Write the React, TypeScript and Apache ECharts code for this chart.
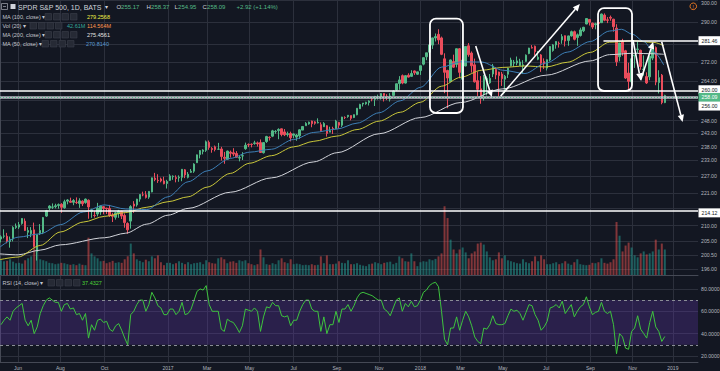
import React, { useEffect, useRef } from 'react';
import * as echarts from 'echarts';

// ---- DATA (3 trading days per bar, bar k sits at trading-day index 3k+1) ----
const BAR_STEP = 3;
// [open, high, low, close]
const OHLC: number[][] = [
  [205.6,206.8,204.5,206.3],[206.5,208.8,205.8,206.6],[206.5,207.6,204.2,204.9],[204.8,206.4,202.8,205.5],[205.6,209.8,204.8,209.4],
  [209.4,210.7,208.9,209.8],[209.5,211.2,208.9,210.3],[210.7,212.5,210.3,212.4],[211.5,212.4,208.2,208.4],[207.8,209.5,205.9,208.4],
  [207.3,209.5,206.2,208.4],[208.6,211.0,203.1,203.2],[201.6,207.0,198.7,207.0],[207.3,210.5,206.9,208.4],[207.8,212.9,207.2,212.7],
  [213.2,215.3,212.9,215.0],[215.9,216.9,215.2,216.6],[216.2,217.5,215.6,216.3],[216.4,217.4,215.8,216.7],[216.8,217.5,215.7,217.1],
  [217.2,217.6,214.3,216.2],[216.0,218.8,215.7,218.1],[218.3,219.0,217.2,218.7],[218.3,219.5,217.8,217.9],[217.9,219.0,216.9,218.5],
  [217.9,219.6,217.3,217.8],[217.5,219.3,216.0,218.4],[218.3,218.6,216.6,217.4],[217.8,219.2,217.4,219.0],[218.6,218.9,212.3,216.3],
  [214.8,215.7,212.6,215.3],[213.4,214.9,212.7,213.4],[213.9,217.7,213.1,215.9],[214.6,216.8,213.6,216.6],[216.4,216.6,213.8,215.8],
  [215.9,216.0,213.9,215.7],[215.8,217.0,212.9,213.4],[213.6,214.3,211.2,213.1],[212.8,214.6,212.0,214.3],[214.1,215.3,212.6,214.9],
  [214.8,215.0,212.2,213.2],[213.4,214.1,209.3,211.0],[210.7,211.1,207.3,208.6],[211.5,216.9,209.0,216.4],[217.3,218.3,214.3,216.6],
  [217.0,219.1,216.4,219.0],[219.0,220.7,218.1,220.6],[220.5,221.6,220.0,220.5],[220.5,221.8,219.2,219.6],[219.7,221.8,219.1,221.7],
  [221.5,226.6,221.4,226.5],[226.4,228.3,225.3,225.9],[225.6,227.8,224.7,225.5],[226.1,226.6,224.9,225.4],[225.4,226.9,224.2,224.4],
  [224.5,225.8,222.7,225.2],[225.6,227.8,225.4,227.2],[226.9,227.4,225.8,227.1],[226.6,227.4,224.9,226.25],[226.5,227.4,225.1,226.7],
  [226.7,229.7,225.3,229.6],[229.4,229.7,226.4,227.55],[226.7,228.6,226.3,227.8],[228.5,229.7,228.3,228.9],[228.9,231.8,228.3,231.5],
  [232.0,235.0,231.9,234.9],[235.0,236.7,233.6,236.5],[236.2,237.0,235.1,236.7],[236.6,240.3,236.0,239.8],[239.6,240.3,236.8,237.7],
  [237.3,237.8,235.7,236.9],[237.9,238.4,236.2,236.9],[237.0,239.4,236.9,237.0],[237.1,237.9,232.8,234.3],[234.0,236.0,231.6,233.6],
  [233.3,236.5,233.1,236.3],[235.9,236.5,233.9,235.5],[235.7,237.4,234.4,235.2],[235.4,236.3,233.9,234.0],[233.7,234.7,232.5,233.9],
  [234.5,235.9,233.0,234.6],[237.2,239.5,236.8,238.5],[238.8,239.2,237.8,238.7],[238.9,239.2,237.7,238.8],[239.2,240.2,238.7,239.4],
  [239.4,239.9,238.0,239.0],[239.5,240.7,235.7,235.8],[235.7,239.7,235.4,239.5],[239.9,242.1,239.4,241.8],[241.5,241.9,240.3,241.4],
  [241.97,244.4,241.6,244.0],[243.7,244.3,242.9,243.8],[244.1,245.0,240.8,244.55],[244.8,244.9,241.9,242.6],[243.6,244.7,242.0,242.5],
  [242.6,243.7,241.8,242.9],[243.0,243.7,239.96,241.35],[242.3,243.0,241.2,242.8],[241.6,242.8,240.2,242.4],[242.1,244.6,240.9,244.4],
  [244.3,245.9,244.3,245.7],[246.0,247.4,246.0,246.9],[246.7,247.6,246.4,247.4],[247.8,248.0,245.4,246.8],[247.5,247.8,246.4,246.96],
  [247.1,248.9,246.9,247.3],[246.4,247.3,243.7,244.1],[245.6,247.4,245.5,246.9],[246.0,246.2,241.8,243.0],[243.5,245.6,243.5,244.1],
  [244.9,245.6,242.8,244.85],[244.8,248.3,244.7,247.8],[247.3,247.5,244.9,246.2],[246.2,249.5,245.5,249.4],[249.2,249.7,248.6,249.2],
  [249.6,250.2,249.1,250.1],[250.0,250.0,248.1,248.9],[249.2,250.4,249.0,250.35],[250.3,253.0,250.1,252.9],[252.7,254.7,252.6,254.4],
  [254.6,255.0,253.6,255.0],[254.7,255.5,254.3,255.3],[255.2,256.1,254.0,255.8],[256.7,257.1,255.7,256.6],[256.5,257.9,253.8,257.7],
  [257.2,258.4,256.4,257.5],[257.4,259.0,256.4,258.85],[258.9,259.0,255.6,258.05],[257.7,258.6,256.2,257.7],[256.6,259.0,255.6,257.9],
  [258.1,260.2,257.9,259.8],[260.3,263.0,259.9,262.9],[263.0,266.1,260.4,264.5],[266.3,266.8,262.7,263.2],[263.2,266.4,263.0,266.3],
  [266.5,267.3,265.5,265.7],[266.0,268.6,265.9,267.2],[268.3,268.5,266.6,267.5],[266.9,267.9,266.6,267.9],[268.5,270.6,266.6,270.5],
  [271.2,274.1,270.7,274.0],[274.4,276.1,272.9,276.1],[276.4,280.1,275.0,279.6],[279.5,282.8,277.8,282.7],[282.7,284.7,281.1,283.3],
  [284.3,286.6,279.9,281.8],[282.7,283.3,275.1,275.45],[273.5,275.9,259.0,267.7],[268.5,268.8,252.9,265.3],[263.8,273.2,263.6,273.0],
  [272.3,275.3,269.6,269.9],[271.1,278.0,269.8,277.9],[277.9,278.2,265.2,267.7],[264.8,273.4,264.1,272.9],[270.4,279.0,270.3,278.9],
  [279.2,280.4,274.4,275.3],[276.0,276.7,267.6,270.5],[270.9,273.6,263.4,263.7],[264.2,268.0,257.8,260.6],[260.8,266.1,254.7,257.5],
  [258.9,266.6,256.0,265.6],[263.4,266.0,258.1,265.15],[263.3,267.0,262.9,265.15],[267.0,271.3,265.7,270.4],[269.0,269.9,264.8,266.6],
  [267.8,268.0,257.8,266.3],[267.0,267.9,262.0,265.0],[264.8,266.6,259.05,266.0],[266.9,269.6,265.3,269.5],[270.5,274.0,270.2,272.98],
  [271.6,273.0,270.0,272.0],[271.7,274.5,270.7,272.6],[270.6,273.5,270.4,272.15],[270.4,272.9,267.1,270.9],[272.4,275.4,272.2,275.1],
  [275.8,278.3,275.5,278.2],[278.4,279.5,278.0,278.2],[279.0,279.3,274.9,276.6],[273.3,276.9,272.9,274.2],[275.2,275.6,267.9,271.6],
  [272.3,273.7,269.1,271.3],[269.5,273.2,268.5,273.1],[273.0,279.0,272.4,278.9],[277.1,280.0,276.6,279.6],[279.6,281.2,277.9,281.1],
  [280.3,281.1,278.4,280.2],[281.8,284.4,280.1,283.3],[283.7,283.8,278.9,281.3],[281.6,283.7,279.2,283.6],[283.6,286.0,283.3,285.5],
  [285.5,286.0,281.6,282.1],[282.9,284.7,279.2,284.1],[283.8,287.3,283.3,286.3],[285.9,287.7,285.3,287.5],[289.0,291.7,288.9,291.5],
  [291.1,291.2,288.3,289.8],[289.4,289.6,286.7,287.6],[288.7,289.6,286.6,289.1],[289.7,291.3,289.1,289.3],[289.6,293.8,289.5,293.6],
  [293.1,293.9,290.3,290.75],[290.9,292.2,289.4,290.7],[292.1,292.9,290.5,291.7],[291.2,291.4,285.5,287.8],[287.1,288.9,270.4,272.2],
  [274.4,280.5,272.4,280.4],[281.2,282.3,274.8,276.25],[277.0,277.4,264.9,265.3],[267.4,271.8,259.85,263.9],[263.7,273.7,262.3,273.5],
  [274.8,275.2,269.6,275.1],[277.6,281.2,276.0,277.8],[277.2,277.5,268.8,270.2],[268.8,275.0,266.3,269.1],[265.9,267.7,262.8,263.25],
  [265.8,274.9,264.4,274.6],[273.8,280.4,272.9,279.3],[278.4,278.9,262.3,263.6],[263.4,268.6,258.9,265.46],[266.5,267.0,254.5,255.17],
  [255.17,258.37,254.95,258.09]
];

// volume in millions per bar
const VOLUME: number[] = [
  75,70,72,80,68,60, 62,58,75,85,95,150,145,80, 75,70,62,60,55,58, 62,60,55,52,55,50,58,52,
  50,190,110,95,85,70,72, 60,65,72,62,65,62,80, 95,160,110,80,72,65,78, 70,95,85,100,65,50,62,
  62,55,60,70,62,55,65, 55,60,62,65,55,75, 65,60,58,85,90,80,60,68, 70,62,75,70,75,60,
  55,50,55,130,90,55,52, 60,55,75,85,65,60,80,55, 58,55,50,52,50,55, 50,52,95,60,100,55,55,58,
  70,62,60,75,55,55,60, 52,48,45,55,58,65,60, 55,62,65,68,55,62,95, 85,70,68,110,70,45,65,
  70,68,80,75,82,95,110, 350,290,180,130,110,130, 140,115,85,110,120,160,165, 155,120,90,75,80,115,85,
  100,75,70,65,60,58,80, 65,60,70,95,70,100,80, 55,55,60,65,55,60,70, 58,52,65,80,55,52,50,52,
  62,60,65,85,62,58,65, 80,270,200,120,150,165,140, 100,90,110,120,105,110,120, 180,130,160,130
];

// RSI(14) per bar
const RSI: number[] = [
  48,52,55,52,60,63,65,67,52,47, 52,40,46,58,65,70,72,70,68,68,
  60,66,67,62,63,57,58,52,58,36, 48,43,52,53,50,51,44,42,47,49,
  43,36,30,57,60,66,70,70,60,66, 77,72,65,63,57,57,62,62,57,60,
  68,57,58,62,70,78,80,79,83,66, 60,60,60,44,42,53,51,50,46,41,
  47,62,61,60,63,60,42,55,64,63, 68,65,65,56,55,56,47,52,52,60,
  66,70,70,62,60,60,42,55,40,48, 48,60,50,62,62,66,60,65,72,76,
  77,76,75,74,72,70,70,62,60,56, 63,70,72,60,67,64,69,64,65,70,
  77,79,83,85,86,82,60,35,30,45, 45,55,43,52,60,55,47,37,33,31,
  45,44,48,56,49,48,48,49,56,62, 60,61,58,52,59,66,65,57,52,43,
  46,51,63,64,66,63,69,58,62,66, 55,60,64,66,73,64,57,59,60,68,
  60,58,60,48,22,40,37,27,26,42, 45,56,44,40,36,50,60,46,42,33,
  37.4327
];

// moving averages [trading-day index, value]
const MA50: number[][] = [[0,203.0],[18,206.2],[40,207.3],[60,210.3],[83,214.6],[104,217.0],[125,215.6],[146,215.4],[167,219.8],[187,225.1],[206,229.0],[229,233.6],[248,235.9],[270,237.0],[292,240.7],[312,243.4],[335,244.7],[355,247.0],[377,251.1],[398,255.9],[418,261.4],[439,269.9],[458,272.2],[479,272.1],[500,268.6],[522,267.2],[543,271.7],[564,276.4],[587,281.1],[606,285.8],[618,286.6],[629,284.3],[640,281.1],[650,276.5],[660,270.814]];
const MA100: number[][] = [[0,199.0],[18,199.8],[40,203.5],[60,207.9],[83,211.2],[104,213.1],[125,214.4],[146,216.2],[167,218.1],[187,219.8],[206,223.2],[229,228.1],[248,231.8],[270,234.6],[292,237.9],[312,240.0],[335,242.0],[355,244.5],[377,247.8],[398,251.3],[418,255.3],[439,261.9],[458,265.6],[479,268.6],[500,269.8],[522,270.4],[543,270.0],[564,272.0],[587,276.3],[606,280.8],[629,281.4],[650,280.7],[660,279.2568]];
const MA200: number[][] = [[0,200.8],[18,200.5],[40,202.0],[60,203.7],[104,206.0],[125,207.5],[146,210.5],[167,213.5],[187,215.8],[229,221.4],[270,226.5],[312,232.3],[335,235.7],[377,242.9],[418,249.2],[458,255.2],[500,260.8],[543,266.5],[587,272.6],[606,275.3],[629,275.9],[650,275.7],[660,275.4561]];

const MONTH_TICKS = [18, 60, 104, 167, 206, 248, 292, 335, 377, 418, 458, 500, 543, 587, 629, 669];
const MONTH_LABELS = ['Jun','Aug','Oct','2017','Mar','May','Jul','Sep','Nov','2018','Mar','May','Jul','Sep','Nov','2019'];
const PRICE_TICKS = [196, 200.5, 205, 210, 216, 221, 227, 233, 238, 243, 248, 256, 264, 272, 280, 290, 300];
// tick labels that the level boxes do not cover
const PRICE_LABELS = [196, 200.5, 205, 210, 221, 227, 233, 238, 243, 248, 264, 272, 290, 300];
const RSI_TICKS = [20, 40, 60, 80];
const PREV_CLOSE = 255.17;

// horizontal levels drawn on the chart
const LEVEL_260 = 260;
const LEVEL_256 = 256;
const LEVEL_214 = 214.12;
const LEVEL_281 = 281.46;

// annotations in data space: [index, price]
const ANNOT_RECTS = [
  { i0: 427.5, p0: 291.5, i1: 460.3, p1: 251.0 },
  { i0: 594.6, p0: 296.4, i1: 628.4, p1: 259.9 },
];
const ANNOT_ARROWS = [
  [473, 279.1, 489, 257.4],
  [497.8, 257.8, 576.5, 298.3],
  [629.4, 281.7, 637, 264.4],
  [637, 264.4, 649.5, 281.0],
  [657.9, 281.0, 678.7, 247.5],
];

// ---- STYLE ----
const BG = '#131722';
const GRID_C = '#2c303c';
const AXIS_C = '#454955';
const TXT = '#b2b5be';
const UP = '#53b987';
const DOWN = '#eb4d5c';
const FONT = '"Liberation Sans", Arial, sans-serif';
const X_MAX = 694;
const ln = Math.log;

function buildOption(): any {
  const xOf = (k: number) => k * BAR_STEP + 1;
  const candles = OHLC.map((d, k) => [xOf(k), ln(d[0]), ln(d[3]), ln(d[2]), ln(d[1])]);
  const vols = VOLUME.map((v, k) => {
    const d = OHLC[k];
    const up = d[3] >= d[0];
    return { value: [xOf(k), v], itemStyle: { color: up ? 'rgba(38,166,154,0.5)' : 'rgba(239,83,80,0.5)' } };
  });
  const rsi = RSI.map((r, k) => [xOf(k), r]);
  const maLine = (arr: number[][], color: string) => ({
    type: 'line', xAxisIndex: 0, yAxisIndex: 0, data: arr.map(([i, p]) => [i, ln(p)]),
    showSymbol: false, symbol: 'none', smooth: 0.3, smoothMonotone: 'x', silent: true,
    lineStyle: { color, width: 1 }, z: 4,
  });
  const xFmt = (v: number) => {
    const i = MONTH_TICKS.indexOf(Math.round(v));
    return i >= 0 ? MONTH_LABELS[i] : '';
  };
  const lnTicks = PRICE_TICKS.map(ln);
  const lnLabels = PRICE_LABELS.map(ln);
  const last = OHLC[OHLC.length - 1];
  return {
    animation: false,
    backgroundColor: BG,
    textStyle: { fontFamily: FONT },
    grid: [
      { left: 0, top: 0, width: 698, height: 275, containLabel: false, outerBoundsMode: 'none' },
      { left: 0, top: 0, width: 698, height: 275, containLabel: false, outerBoundsMode: 'none' },
      { left: 0, top: 276, width: 698, height: 86, containLabel: false, outerBoundsMode: 'none' },
    ],
    xAxis: [
      { type: 'value', gridIndex: 0, min: 0, max: X_MAX,
        axisLine: { show: true, onZero: false, lineStyle: { color: AXIS_C } },
        axisTick: { show: false, customValues: MONTH_TICKS },
        axisLabel: { show: false, customValues: MONTH_TICKS },
        splitLine: { show: true, lineStyle: { color: GRID_C, width: 1 } } },
      { type: 'value', gridIndex: 1, min: 0, max: X_MAX, show: false, splitLine: { show: false } },
      { type: 'value', gridIndex: 2, min: 0, max: X_MAX,
        axisLine: { show: true, onZero: false, lineStyle: { color: AXIS_C } },
        axisTick: { show: false, customValues: MONTH_TICKS },
        axisLabel: { show: true, customValues: MONTH_TICKS, formatter: xFmt, color: TXT, fontSize: 5, margin: 3, fontFamily: FONT },
        splitLine: { show: true, lineStyle: { color: GRID_C, width: 1 } } },
    ],
    yAxis: [
      { type: 'value', gridIndex: 0, position: 'right', min: ln(194.2), max: ln(300.2), scale: true,
        axisLine: { show: true, lineStyle: { color: AXIS_C } },
        axisTick: { show: false, customValues: lnTicks },
        axisLabel: { customValues: lnLabels, formatter: (v: number) => Math.exp(v).toFixed(2), color: TXT, fontSize: 5.2, margin: 3, fontFamily: FONT,
          verticalAlignMaxLabel: 'top' },
        splitLine: { show: true, lineStyle: { color: GRID_C, width: 1 } } },
      { type: 'value', gridIndex: 1, min: 0, max: 1400, show: false, splitLine: { show: false } },
      { type: 'value', gridIndex: 2, position: 'right', min: 14.6, max: 91.6,
        axisLine: { show: true, lineStyle: { color: AXIS_C } },
        axisTick: { show: false, customValues: RSI_TICKS },
        axisLabel: { customValues: RSI_TICKS, formatter: (v: number) => v.toFixed(4), color: TXT, fontSize: 5.2, margin: 3, fontFamily: FONT },
        splitLine: { show: true, lineStyle: { color: GRID_C, width: 1 } } },
    ],
    series: [
      { type: 'bar', xAxisIndex: 1, yAxisIndex: 1, data: vols, barWidth: 2, silent: true, z: 1 },
      { type: 'candlestick', xAxisIndex: 0, yAxisIndex: 0, data: candles, barWidth: 2, silent: true, z: 3,
        encode: { x: 0, y: [1, 2, 3, 4] },
        itemStyle: { color: UP, color0: DOWN, borderColor: UP, borderColor0: DOWN, borderWidth: 1 },
        markLine: {
          silent: true, symbol: ['none', 'none'], label: { show: false }, animation: false,
          data: [
            { yAxis: ln(LEVEL_260), lineStyle: { color: '#ffffff', width: 1.5, type: 'solid' } },
            { yAxis: ln(LEVEL_256), lineStyle: { color: '#b8bbc4', width: 2.5, type: 'solid' } },
            { yAxis: ln(LEVEL_214), lineStyle: { color: '#ffffff', width: 1.5, type: 'solid' } },
            { yAxis: ln(last[3]), lineStyle: { color: UP, width: 1, type: [1, 2] } },
            [ { coord: [600, ln(LEVEL_281)], lineStyle: { color: '#ffffff', width: 1.5, type: 'solid' } }, { coord: [X_MAX, ln(LEVEL_281)] } ],
          ],
        } },
      maLine(MA200, '#d2d4da'),
      maLine(MA100, '#c9c73a'),
      maLine(MA50, '#3d7fb6'),
      { type: 'line', xAxisIndex: 2, yAxisIndex: 2, data: rsi, showSymbol: false, symbol: 'none', silent: true,
        lineStyle: { color: '#3ec43e', width: 1 }, z: 4,
        markArea: { silent: true, itemStyle: { color: 'rgba(103,58,183,0.28)' }, data: [[{ yAxis: 30 }, { yAxis: 70 }]] },
        markLine: { silent: true, symbol: ['none', 'none'], label: { show: false },
          lineStyle: { color: '#8a8d96', width: 1, type: [3, 3] }, data: [{ yAxis: 70 }, { yAxis: 30 }] } },
    ],
  };
}

function txt(x: number, y: number, text: string, fill: string, size: number, align = 'left', extra: any = {}): any {
  return { type: 'text', x, y, z: 100, silent: true,
    style: { text, fill, fontSize: size, fontFamily: FONT, align, verticalAlign: 'middle', ...extra } };
}

function buttons(x0: number, y: number): any[] {
  const out: any[] = [];
  for (let b = 0; b < 4; b++) {
    out.push({ type: 'rect', z: 100, silent: true, shape: { x: x0 + b * 8.5, y: y - 3.2, width: 6.5, height: 6.5 },
      style: { fill: '#262a35', stroke: '#3a3e4a', lineWidth: 0.6 } });
  }
  return out;
}

function buildGraphic(chart: any): any[] {
  const P = (i: number, p: number) => chart.convertToPixel({ gridIndex: 0 }, [i, ln(p)]) as number[];
  const els: any[] = [];
  const last = OHLC[OHLC.length - 1];

  // rounded boxes
  for (const r of ANNOT_RECTS) {
    const a = P(r.i0, r.p0), b = P(r.i1, r.p1);
    els.push({ type: 'rect', z: 90, silent: true, shape: { x: a[0], y: a[1], width: b[0] - a[0], height: b[1] - a[1], r: 6 },
      style: { fill: 'none', stroke: '#ffffff', lineWidth: 1.8 } });
  }
  // arrows
  for (const [i0, p0, i1, p1] of ANNOT_ARROWS) {
    const a = P(i0, p0), b = P(i1, p1);
    const dx = b[0] - a[0], dy = b[1] - a[1];
    const len = Math.hypot(dx, dy), ux = dx / len, uy = dy / len;
    const L = 7, W = 3.2;
    const bx = b[0] - ux * L, by = b[1] - uy * L;
    els.push({ type: 'line', z: 90, silent: true, shape: { x1: a[0], y1: a[1], x2: bx, y2: by }, style: { stroke: '#ffffff', lineWidth: 1.6 } });
    els.push({ type: 'polygon', z: 90, silent: true,
      shape: { points: [[b[0], b[1]], [bx - uy * W, by + ux * W], [bx + uy * W, by - ux * W]] }, style: { fill: '#ffffff' } });
  }
  // price-axis labels of levels
  const boxes = [
    { p: LEVEL_281, dy: 0, bg: '#ffffff', fg: '#131722', t: LEVEL_281.toFixed(2) },
    { p: LEVEL_260, dy: -1, bg: '#ffffff', fg: '#131722', t: LEVEL_260.toFixed(2) },
    { p: last[3], dy: 2, bg: UP, fg: '#ffffff', t: last[3].toFixed(2) },
    { p: LEVEL_256, dy: 5.5, bg: '#ffffff', fg: '#131722', t: LEVEL_256.toFixed(2) },
    { p: LEVEL_214, dy: -0.5, bg: '#ffffff', fg: '#131722', t: LEVEL_214.toFixed(2) },
  ];
  for (const b of boxes) {
    const y = P(0, b.p)[1] + b.dy;
    els.push({ type: 'rect', z: 95, silent: true, shape: { x: 698.5, y: y - 4.5, width: 21.5, height: 9 }, style: { fill: b.bg } });
    els.push(txt(709.5, y, b.t, b.fg, 5.2, 'center'));
  }

  // header
  els.push({ type: 'rect', z: 100, silent: true, shape: { x: 1.5, y: 3.5, width: 6, height: 6 }, style: { fill: 'none', stroke: '#9598a1', lineWidth: 0.8 } });
  els.push({ type: 'line', z: 100, silent: true, shape: { x1: 3, y1: 6.5, x2: 6, y2: 6.5 }, style: { stroke: '#9598a1', lineWidth: 0.8 } });
  els.push({ type: 'rect', z: 100, silent: true, shape: { x: 10.5, y: 4, width: 5, height: 5 }, style: { fill: '#d1d4dc' } });
  els.push(txt(18, 7, 'SPDR S&P 500, 1D, BATS', '#d1d4dc', 7));
  els.push(txt(104.5, 7, '▾', '#d1d4dc', 5.5));
  const chg = last[3] - PREV_CLOSE;
  const pct = (chg / PREV_CLOSE) * 100;
  const ohlcParts = [
    { l: 'O', v: last[0], x: 116.5 }, { l: 'H', v: last[1], x: 146.5 },
    { l: 'L', v: last[2], x: 174.5 }, { l: 'C', v: last[3], x: 202.5 },
  ];
  for (const o of ohlcParts) {
    els.push(txt(o.x, 7, o.l, '#d1d4dc', 6));
    els.push(txt(o.x + (o.l === 'L' ? 3.6 : 4.6), 7, o.v.toFixed(2), UP, 6));
  }
  els.push(txt(236.5, 7, `+${chg.toFixed(2)} (+${pct.toFixed(2)}%)`, UP, 6));

  const LBL = '#c3c6ce';
  const rows = [
    { label: 'MA (100, close) ▾', y: 16.7, bx: 45, vals: [{ t: MA100[MA100.length - 1][1].toFixed(4), x: 87, c: '#f2f046' }] },
    { label: 'Vol (20) ▾', y: 25.7, bx: 30, vals: [{ t: '42.61M', x: 67, c: '#35a99e' }, { t: '114.564M', x: 87, c: '#ff9850' }] },
    { label: 'MA (200, close) ▾', y: 34.7, bx: 45, vals: [{ t: MA200[MA200.length - 1][1].toFixed(4), x: 87, c: '#e4e4e4' }] },
    { label: 'MA (50, close) ▾', y: 43.7, bx: 42, vals: [{ t: MA50[MA50.length - 1][1].toFixed(4), x: 86, c: '#5a9bd4' }] },
    { label: 'RSI (14, close) ▾', y: 282.7, bx: 48, vals: [{ t: RSI[RSI.length - 1].toFixed(4), x: 82, c: '#4cd137' }] },
  ];
  for (const r of rows) {
    els.push(txt(2.5, r.y, r.label, LBL, 5.5));
    els.push(...buttons(r.bx, r.y));
    for (const v of r.vals) els.push(txt(v.x, r.y, v.t, v.c, 5.5));
  }
  // alert icon
  els.push({ type: 'circle', z: 100, silent: true, shape: { cx: 693.3, cy: 6.3, r: 3.3 }, style: { fill: 'none', stroke: '#f57f22', lineWidth: 0.9 } });
  els.push(txt(693.3, 6.5, '!', '#f57f22', 5, 'center'));
  return els;
}

export default function App() {
  const ref = useRef<HTMLDivElement>(null);
  useEffect(() => {
    document.body.style.margin = '0';
    document.body.style.background = BG;
    const chart = echarts.init(ref.current as HTMLDivElement, null, { renderer: 'svg', width: 720, height: 371 });
    chart.setOption(buildOption());
    chart.setOption({ graphic: { elements: buildGraphic(chart) } });
    return () => chart.dispose();
  }, []);
  return <div ref={ref} style={{ position: 'fixed', left: 0, top: 0, width: 720, height: 371 }} />;
}
